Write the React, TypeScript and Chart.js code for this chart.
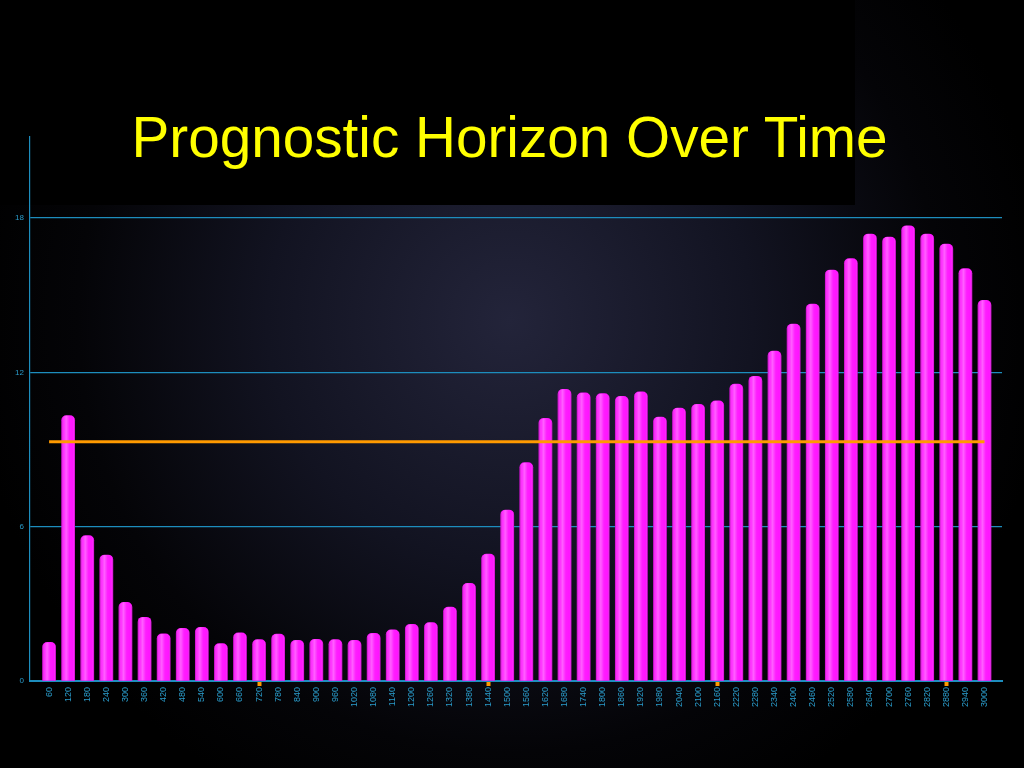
import React, { useEffect, useRef } from "react";
import { Chart, registerables } from "chart.js";

Chart.register(...registerables);

const titleText = "Prognostic Horizon Over Time";

const categories = [
  60, 120, 180, 240, 300, 360, 420, 480, 540, 600,
  660, 720, 780, 840, 900, 960, 1020, 1080, 1140, 1200,
  1260, 1320, 1380, 1440, 1500, 1560, 1620, 1680, 1740, 1800,
  1860, 1920, 1980, 2040, 2100, 2160, 2220, 2280, 2340, 2400,
  2460, 2520, 2580, 2640, 2700, 2760, 2820, 2880, 2940, 3000,
];

const horizonValues = [
  1.5, 10.32, 5.65, 4.9, 3.06, 2.48, 1.83, 2.05, 2.09, 1.45,
  1.87, 1.61, 1.82, 1.58, 1.62, 1.61, 1.58, 1.85, 1.99, 2.2,
  2.27, 2.87, 3.8, 4.93, 6.65, 8.49, 10.21, 11.34, 11.2, 11.17,
  11.07, 11.24, 10.26, 10.61, 10.76, 10.89, 11.54, 11.85, 12.83, 13.88,
  14.65, 15.98, 16.42, 17.38, 17.26, 17.7, 17.38, 16.99, 16.03, 14.8,
];

const referenceLineX = [60, 3000];
const referenceLineY = [9.3, 9.3];

const yTickValues = [0, 6, 12, 18];
const markedTicks = [720, 1440, 2160, 2880];

const AXIS_COLOR = "#1d8dbd";
const LABEL_COLOR = "#2a9ccb";

const backgroundPlugin = {
  id: "slideBackground",
  beforeDraw(chart: any) {
    const { ctx, width, height } = chart;
    ctx.save();
    ctx.fillStyle = "#000000";
    ctx.fillRect(0, 0, width, height);
    const g = ctx.createRadialGradient(510, 320, 0, 510, 320, 540);
    g.addColorStop(0, "#23243a");
    g.addColorStop(0.45, "#121321");
    g.addColorStop(0.8, "#040407");
    g.addColorStop(1, "#000000");
    ctx.fillStyle = g;
    ctx.fillRect(0, 0, width, height);
    ctx.fillStyle = "#000000";
    ctx.fillRect(0, 0, 855, 205);
    ctx.restore();
  },
};

const barShadePlugin = {
  id: "barShade",
  afterDatasetDraw(chart: any, args: any) {
    if (args.index !== 0) return;
    const { ctx } = chart;
    const meta = chart.getDatasetMeta(0);
    ctx.save();
    meta.data.forEach((el: any) => {
      const { x, y, base, width } = el.getProps(["x", "y", "base", "width"], true);
      const left = x - width / 2;
      const g = ctx.createLinearGradient(left, 0, left + width, 0);
      g.addColorStop(0, "rgba(110,0,110,0.45)");
      g.addColorStop(0.15, "rgba(255,255,255,0.1)");
      g.addColorStop(0.35, "rgba(255,255,255,0.32)");
      g.addColorStop(0.6, "rgba(255,255,255,0.04)");
      g.addColorStop(0.88, "rgba(255,255,255,0)");
      g.addColorStop(1, "rgba(110,0,110,0.45)");
      ctx.fillStyle = g;
      ctx.beginPath();
      const r = Math.min(5, width / 2);
      (ctx as any).roundRect(left, y, width, base - y, [r, r, 0, 0]);
      ctx.fill();
    });
    ctx.restore();
  },
};

export default function App() {
  const canvasRef = useRef<HTMLCanvasElement | null>(null);

  useEffect(() => {
    document.body.style.margin = "0";
    document.body.style.background = "#000";
    const canvas = canvasRef.current;
    if (!canvas) return;

    const chart = new Chart(canvas, {
      type: "bar",
      data: {
        datasets: [
          {
            type: "bar",
            label: "Prognostic horizon",
            data: categories.map((c, i) => ({ x: c, y: horizonValues[i] })),
            backgroundColor: "#ff14ff",
            borderWidth: 0,
            borderRadius: { topLeft: 5, topRight: 5, bottomLeft: 0, bottomRight: 0 },
            borderSkipped: "bottom",
            barThickness: 13,
            order: 2,
          } as any,
          {
            type: "line",
            label: "Reference",
            data: referenceLineX.map((x, i) => ({ x, y: referenceLineY[i] })),
            borderColor: "#ff9a00",
            borderWidth: 3,
            pointRadius: 0,
            fill: false,
            order: 1,
          } as any,
        ],
      },
      options: {
        responsive: false,
        animation: false,
        events: [],
        layout: { padding: { left: 0, right: 22, top: 137, bottom: 0 } },
        plugins: {
          legend: { display: false },
          tooltip: { enabled: false },
          title: { display: false },
        },
        scales: {
          x: {
            type: "linear",
            min: 0,
            max: 3055,
            offset: false,
            afterBuildTicks: (scale: any) => {
              scale.ticks = categories.map((v) => ({ value: v }));
            },
            afterFit: (scale: any) => {
              scale.height = 87;
            },
            ticks: {
              autoSkip: false,
              minRotation: 90,
              maxRotation: 90,
              padding: 1,
              color: LABEL_COLOR,
              font: { family: "'Liberation Sans', Arial, sans-serif", size: 9 },
              callback: (v: any) => String(v),
            },
            grid: {
              offset: false,
              drawOnChartArea: false,
              drawTicks: true,
              tickLength: 5,
              tickWidth: 4,
              tickColor: (ctx: any) =>
                markedTicks.includes(ctx.tick && ctx.tick.value) ? "#ff9a00" : "rgba(0,0,0,0)",
            },
            border: { display: true, color: AXIS_COLOR, width: 2 },
          },
          y: {
            type: "linear",
            min: 0,
            max: 21.15,
            afterBuildTicks: (scale: any) => {
              scale.ticks = yTickValues.map((v) => ({ value: v }));
            },
            afterFit: (scale: any) => {
              scale.width = 30;
            },
            ticks: {
              padding: 6,
              color: LABEL_COLOR,
              font: { family: "'Liberation Sans', Arial, sans-serif", size: 8 },
              callback: (v: any) => String(v),
            },
            grid: {
              drawTicks: false,
              lineWidth: 1.2,
              color: (ctx: any) => (ctx.tick && ctx.tick.value === 0 ? "rgba(0,0,0,0)" : AXIS_COLOR),
            },
            border: { display: true, color: AXIS_COLOR, width: 1.2 },
          },
        },
      },
      plugins: [backgroundPlugin, barShadePlugin],
    } as any);

    return () => {
      chart.destroy();
    };
  }, []);

  return (
    <div style={{ position: "relative", width: 1024, height: 768, overflow: "hidden", background: "#000" }}>
      <canvas ref={canvasRef} width={1024} height={768} style={{ display: "block", width: 1024, height: 768 }} />
      <div
        style={{
          position: "absolute",
          left: 0,
          top: 109,
          width: 1019,
          textAlign: "center",
          fontFamily: "'Liberation Sans', Arial, sans-serif",
          fontSize: 56.7,
          lineHeight: "57px",
          color: "#ffff00",
          whiteSpace: "nowrap",
        }}
      >
        {titleText}
      </div>
    </div>
  );
}
